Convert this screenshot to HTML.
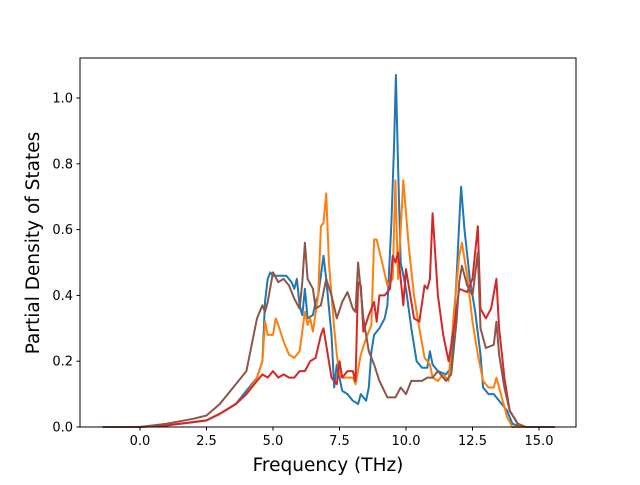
<!DOCTYPE html>
<html><head><meta charset="utf-8"><style>
body{margin:0;background:#fff}
svg text{font-family:"DejaVu Sans","Liberation Sans",sans-serif}
</style></head><body>
<svg id="chart" width="640" height="480" xmlns="http://www.w3.org/2000/svg">
<rect width="640" height="480" fill="#fff"/>
<g id="plot"></g>
<rect x="80" y="58" width="496" height="369" fill="none" stroke="#000" stroke-width="1"/>
<g id="ticks"></g>
<text x="328" y="471" font-size="18.5" text-anchor="middle">Frequency (THz)</text>
<text transform="translate(39,243) rotate(-90)" font-size="18.5" text-anchor="middle">Partial Density of States</text>
</svg>
<script>
const xTicks=[0,2.5,5,7.5,10,12.5,15];
const xTickLabels=["0.0","2.5","5.0","7.5","10.0","12.5","15.0"];
const yTicks=[0,0.2,0.4,0.6,0.8,1.0];
const yTickLabels=["0.0","0.2","0.4","0.6","0.8","1.0"];
const blueF=[-1.4,0,1,2,2.5,3,3.6,4.0,4.4,4.6,4.7,4.8,4.9,5.0,5.5,5.7,5.8,5.9,6.0,6.1,6.2,6.3,6.5,6.6,6.7,6.9,7.0,7.2,7.3,7.4,7.6,7.8,8.0,8.2,8.3,8.5,8.6,8.7,8.8,9.0,9.2,9.3,9.45,9.55,9.62,9.7,9.8,10.0,10.2,10.4,10.6,10.8,10.9,11.0,11.2,11.5,11.7,11.9,12.0,12.07,12.2,12.4,12.6,12.8,12.9,13.1,13.3,13.5,13.8,14.0,14.3,15.6];
const blueV=[0,0,0.005,0.015,0.02,0.04,0.07,0.11,0.15,0.2,0.38,0.45,0.47,0.46,0.46,0.44,0.42,0.45,0.37,0.34,0.42,0.33,0.34,0.38,0.40,0.52,0.45,0.28,0.12,0.19,0.11,0.10,0.08,0.07,0.10,0.08,0.12,0.23,0.28,0.30,0.33,0.37,0.62,0.85,1.07,0.80,0.50,0.42,0.30,0.20,0.18,0.18,0.23,0.19,0.17,0.16,0.18,0.45,0.62,0.73,0.60,0.45,0.35,0.22,0.12,0.10,0.10,0.08,0.05,0.01,0,0];
const orangeF=[-1.4,0,1,2,2.5,3,3.6,4.0,4.4,4.6,4.7,4.8,5.0,5.1,5.2,5.4,5.6,5.8,6.0,6.2,6.3,6.4,6.5,6.7,6.8,6.9,7.0,7.1,7.3,7.4,7.5,7.6,8.0,8.1,8.3,8.5,8.7,8.8,8.9,9.1,9.3,9.5,9.6,9.7,9.9,10.1,10.3,10.5,10.7,10.9,11.0,11.2,11.4,11.6,11.8,12.0,12.1,12.3,12.5,12.7,12.9,13.1,13.3,13.4,13.6,13.8,14.0,15.6];
const orangeV=[0,0,0.005,0.015,0.02,0.04,0.07,0.10,0.15,0.2,0.32,0.28,0.28,0.33,0.31,0.26,0.22,0.21,0.23,0.35,0.31,0.33,0.29,0.40,0.61,0.62,0.71,0.50,0.30,0.22,0.16,0.15,0.15,0.13,0.22,0.27,0.31,0.57,0.57,0.50,0.43,0.45,0.75,0.45,0.75,0.55,0.40,0.30,0.21,0.19,0.15,0.14,0.16,0.14,0.35,0.52,0.56,0.46,0.32,0.22,0.14,0.12,0.12,0.15,0.09,0.03,0,0];
const redF=[-1.4,0,1,2,2.5,3,3.6,4.0,4.4,4.6,4.8,5.0,5.2,5.4,5.6,5.8,6.0,6.2,6.4,6.6,6.8,6.9,7.0,7.2,7.4,7.5,7.6,7.8,8.0,8.1,8.2,8.3,8.4,8.6,8.8,8.9,9.0,9.2,9.4,9.5,9.6,9.7,9.8,9.9,10.0,10.3,10.5,10.7,10.8,10.9,11.0,11.2,11.4,11.6,11.8,12.0,12.3,12.5,12.7,12.8,13.0,13.2,13.4,13.5,13.7,13.9,14.2,14.5,15.6];
const redV=[0,0,0.005,0.015,0.02,0.04,0.07,0.10,0.14,0.16,0.15,0.17,0.15,0.16,0.15,0.15,0.17,0.17,0.20,0.21,0.28,0.30,0.25,0.15,0.13,0.20,0.15,0.17,0.17,0.14,0.44,0.43,0.29,0.34,0.38,0.32,0.40,0.40,0.42,0.52,0.50,0.53,0.45,0.37,0.48,0.33,0.32,0.43,0.42,0.45,0.65,0.40,0.28,0.20,0.30,0.42,0.41,0.45,0.61,0.36,0.33,0.36,0.45,0.30,0.15,0.05,0.01,0,0];
const brownF=[-1.4,0,1,2,2.5,3,3.6,4.0,4.2,4.4,4.6,4.7,4.8,5.0,5.2,5.4,5.6,5.8,6.0,6.1,6.2,6.3,6.5,6.6,6.8,7.0,7.2,7.4,7.6,7.8,8.0,8.1,8.2,8.4,8.6,8.8,9.0,9.3,9.6,9.8,10.0,10.2,10.6,10.8,11.0,11.2,11.5,11.7,11.9,12.0,12.1,12.3,12.5,12.7,12.8,13.0,13.3,13.4,13.5,13.7,13.9,14.2,14.5,15.6];
const brownV=[0,0,0.01,0.025,0.035,0.07,0.13,0.17,0.25,0.33,0.37,0.35,0.38,0.47,0.44,0.45,0.43,0.39,0.36,0.44,0.56,0.45,0.42,0.36,0.37,0.45,0.40,0.33,0.38,0.41,0.36,0.35,0.50,0.33,0.23,0.19,0.14,0.09,0.09,0.12,0.10,0.14,0.14,0.15,0.15,0.17,0.14,0.16,0.32,0.44,0.49,0.43,0.40,0.53,0.30,0.24,0.25,0.32,0.22,0.12,0.05,0.01,0,0];
const X=f=>140+26.6*f, Y=v=>427-329*v;
const NS='http://www.w3.org/2000/svg';
const plot=document.getElementById('plot'), ticks=document.getElementById('ticks');
const series=[['blue-series',blueF,blueV,'#1f77b4'],['orange-series',orangeF,orangeV,'#ff7f0e'],['red-series',redF,redV,'#d62728'],['brown-series',brownF,brownV,'#8c564b']];
series.forEach(s=>{
  const p=document.createElementNS(NS,'polyline');
  p.setAttribute('points',s[1].map((f,i)=>X(f).toFixed(1)+','+Y(s[2][i]).toFixed(1)).join(' '));
  p.setAttribute('fill','none');p.setAttribute('stroke',s[3]);p.setAttribute('stroke-width','2');p.setAttribute('stroke-linejoin','round');
  
  
  plot.appendChild(p);
});
xTicks.forEach((t,i)=>{
  const l=document.createElementNS(NS,'line');
  l.setAttribute('x1',X(t));l.setAttribute('x2',X(t));l.setAttribute('y1',427);l.setAttribute('y2',430.5);l.setAttribute('stroke','#000');
  
  
  ticks.appendChild(l);
  const tx=document.createElementNS(NS,'text');
  tx.setAttribute('x',X(t));tx.setAttribute('y',445);tx.setAttribute('font-size','13');tx.setAttribute('text-anchor','middle');
  tx.textContent=xTickLabels[i];
  
  
  ticks.appendChild(tx);
});
yTicks.forEach((t,i)=>{
  const l=document.createElementNS(NS,'line');
  l.setAttribute('x1',76.5);l.setAttribute('x2',80);l.setAttribute('y1',Y(t));l.setAttribute('y2',Y(t));l.setAttribute('stroke','#000');
  
  
  ticks.appendChild(l);
  const tx=document.createElementNS(NS,'text');
  tx.setAttribute('x',73);tx.setAttribute('y',Y(t)+4.5);tx.setAttribute('font-size','13');tx.setAttribute('text-anchor','end');
  tx.textContent=yTickLabels[i];
  
  
  ticks.appendChild(tx);
});
</script>
</body></html>
